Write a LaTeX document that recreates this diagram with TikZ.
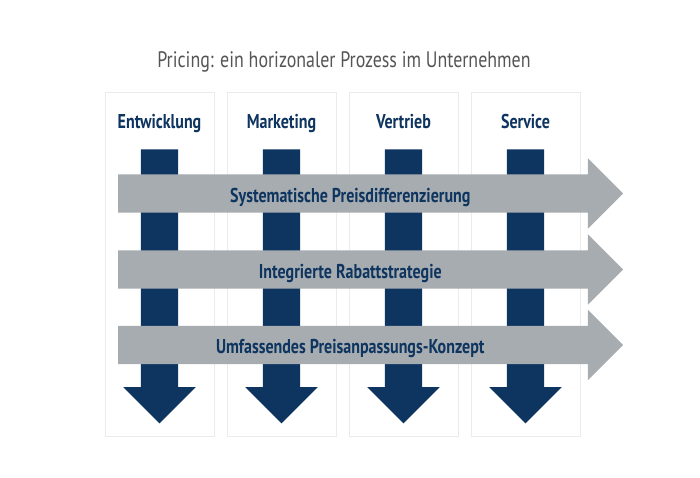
\documentclass[tikz,border=0pt]{standalone}
\usepackage{fontspec}
\setmainfont{PT Sans}[FakeStretch=0.8]
\usetikzlibrary{shapes.arrows,calc,positioning,shadows}
\definecolor{navy}{HTML}{0E3460}
\definecolor{bargray}{HTML}{A6ACAF}
\definecolor{titlegray}{HTML}{555555}

\begin{document}
\begin{tikzpicture}[x=1pt,y=1pt,
  panel/.style={draw=black!8,fill=white,minimum width=109pt,minimum height=344pt,
    outer sep=0pt,inner sep=0pt,node distance=13pt,
    drop shadow={opacity=0.15,shadow xshift=1pt,shadow yshift=-1pt}},
  head/.style={anchor=base,text=navy,font=\bfseries\fontsize{20}{24}\selectfont},
  varrow/.style={single arrow,fill=navy,rotate=-90,inner sep=18.5pt,outer sep=0pt,
    minimum height=274pt,single arrow head extend=17.5pt,single arrow head indent=0pt},
  harrow/.style={single arrow,fill=bargray,anchor=tail,inner sep=19pt,outer sep=0pt,
    minimum height=505pt,single arrow head extend=16pt,single arrow head indent=0pt},
  bartext/.style={anchor=base,text=navy,yshift=-8.5pt,font=\bfseries\fontsize{20}{24}\selectfont}]

        \useasboundingbox (0,0) rectangle (700,-477);

        \node (title) [anchor=base,text=titlegray,font=\fontsize{22.4}{26}\selectfont]
          at (344,-67) {Pricing: ein horizonaler Prozess im Unternehmen};

        % Spalten
        \node (entw) [panel] at (159.5,-264) {};
        \node (mark) [panel,right = of entw] {};
        \node (vert) [panel,right = of mark] {};
        \node (serv) [panel,right = of vert] {};

        \node [head] at ($(entw.north)+(0,-36)$) {Entwicklung};
        \node [head] at ($(mark.north)+(0,-36)$) {Marketing};
        \node [head] at ($(vert.north)+(0,-36)$) {Vertrieb};
        \node [head] at ($(serv.north)+(0,-36)$) {Service};

        \node (pfeilA) [varrow] at ($(entw.south)+(0,159)$) {};
        \node (pfeilB) [varrow] at ($(mark.south)+(0,159)$) {};
        \node (pfeilC) [varrow] at ($(vert.south)+(0,159)$) {};
        \node (pfeilD) [varrow] at ($(serv.south)+(0,159)$) {};

        % horizontale Prozesse
        \node (sys) [harrow] at ($(entw.north west)+(13,-101.5)$) {};
        \node (rabatt) [harrow] at ($(sys.tail)+(0,-76)$) {};
        \node (konzept) [harrow] at ($(rabatt.tail)+(0,-75.5)$) {};

        \node [bartext] at ($(sys.tail)!0.46!(sys.tip)$) {Systematische Preisdifferenzierung};
        \node [bartext] at ($(rabatt.tail)!0.46!(rabatt.tip)$) {Integrierte Rabattstrategie};
        \node [bartext] at ($(konzept.tail)!0.46!(konzept.tip)$) {Umfassendes Preisanpassungs-Konzept};
      \end{tikzpicture}
\end{document}
